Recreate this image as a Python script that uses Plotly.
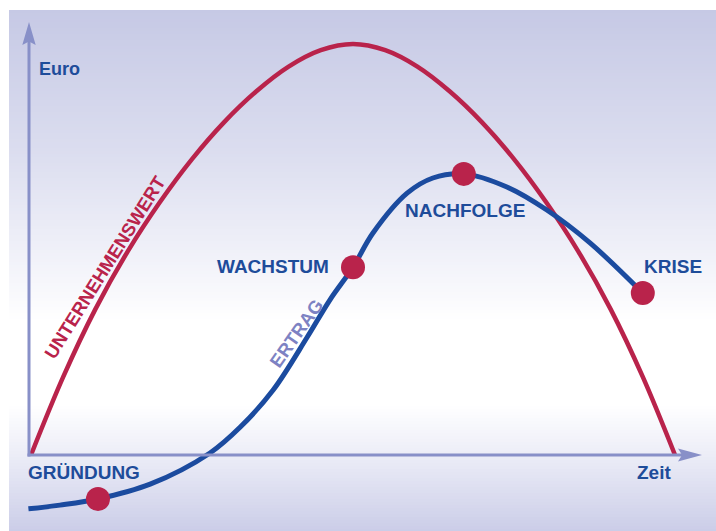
import plotly.graph_objects as go

# ---------------- data (time units, euro units) ----------------
red_t = [0, 0.5, 1, 1.5, 2, 2.5, 3, 3.5, 4, 4.5, 5, 5.5, 6, 6.5, 7, 7.5, 8, 8.5, 9, 9.5, 10]
red_e = [0, 19, 35.5, 49.5, 61.5, 72, 81, 88.5, 94.5, 98.5, 100, 98.5, 94.5, 88.5, 81, 72, 61.5, 49.5, 35.5, 19, 0]

blue_t = [-0.04, 0.45, 1.04, 1.85, 2.78, 3.25, 3.76, 4.29, 4.64, 5.0, 5.31, 5.84, 6.24, 6.72,
          7.39, 8.01, 8.68, 9.50]
blue_e = [-13.1, -12.2, -10.7, -7.1, 0.5, 6.8, 15.8, 28.7, 37.7, 45.7, 54.0, 63.7, 67.4, 68.4,
          65.2, 59.6, 51.6, 39.4]

stage_names = ["GRÜNDUNG", "WACHSTUM", "NACHFOLGE", "KRISE"]
stage_t = [1.04, 5.0, 6.72, 9.50]
stage_e = [-10.7, 45.7, 68.4, 39.4]

# ---------------- geometry helpers ----------------
W, H = 716, 531
OX, OY = 31.0, 455.0        # pixel of origin
SX, SY = 64.4, 4.11         # pixels per unit

def tx(px):
    return (px - OX) / SX

def ey(py):
    return (OY - py) / SY

RED = "#b9234b"
BLUE = "#1b4b9f"
TXT = "#1e4c9a"
AXC = "#8890c8"
LAV = "#7d82c3"
FONT = "Liberation Sans, Arial, sans-serif"

fig = go.Figure()

fig.add_trace(go.Scatter(x=red_t, y=red_e, mode="lines",
                         line=dict(color=RED, width=4.5, shape="spline", smoothing=1.0),
                         hoverinfo="skip", showlegend=False))
fig.add_trace(go.Scatter(x=blue_t, y=blue_e, mode="lines",
                         line=dict(color=BLUE, width=5, shape="spline", smoothing=1.0),
                         hoverinfo="skip", showlegend=False))
fig.add_trace(go.Scatter(x=stage_t, y=stage_e, mode="markers",
                         marker=dict(color=RED, size=24, line=dict(width=0)),
                         hoverinfo="skip", showlegend=False))

# ---------------- background gradient ----------------
stops = [(10, (198, 201, 229)), (150, (219, 221, 239)), (300, (250, 250, 253)),
         (320, (255, 255, 255)), (405, (255, 255, 255)), (455, (236, 237, 247)),
         (531, (203, 205, 232))]

def col_at(py):
    for (a, ca), (b, cb) in zip(stops[:-1], stops[1:]):
        if a <= py <= b:
            f = (py - a) / (b - a)
            return tuple(round(ca[i] + (cb[i] - ca[i]) * f) for i in range(3))
    return stops[-1][1]

shapes = []
step = 3
py = 10
while py < H:
    c = col_at(py + step / 2)
    shapes.append(dict(type="rect", xref="paper", yref="paper", layer="below",
                       x0=9 / W, x1=1, y0=1 - min(py + step + 0.5, H) / H, y1=1 - py / H,
                       fillcolor="rgb(%d,%d,%d)" % c, line=dict(width=0)))
    py += step

# ---------------- axes with arrows ----------------
ax_x0 = 29
shapes.append(dict(type="line", x0=tx(ax_x0), x1=tx(ax_x0), y0=ey(OY + 1.5), y1=ey(40),
                   line=dict(color=AXC, width=3)))
shapes.append(dict(type="line", x0=tx(ax_x0 - 1.5), x1=tx(685), y0=0, y1=0,
                   line=dict(color=AXC, width=3)))

def path(pts):
    return "M " + " L ".join("%f,%f" % (tx(a), ey(b)) for a, b in pts) + " Z"

shapes.append(dict(type="path", path=path([(ax_x0, 22), (ax_x0 + 6.7, 45), (ax_x0, 41.5), (ax_x0 - 6.7, 45)]),
                   fillcolor=AXC, line=dict(width=0)))
shapes.append(dict(type="path", path=path([(702, OY), (678, OY - 6.5), (682, OY), (678, OY + 6.5)]),
                   fillcolor=AXC, line=dict(width=0)))

# ---------------- text ----------------
def ann(text, x, y, xanchor="center", color=TXT, angle=0, size=19):
    fig.add_annotation(x=x, y=y, text=text, showarrow=False, xanchor=xanchor, yanchor="middle",
                       textangle=angle,
                       font=dict(family=FONT, size=size, color=color, weight="bold"))

ann("Euro", tx(37), ey(69), xanchor="left", size=18)
ann("Zeit", tx(635), ey(472), xanchor="left", size=19)
ann(stage_names[0], tx(26), ey(472), xanchor="left")
ann(stage_names[1], tx(331), ey(266), xanchor="right")
ann(stage_names[2], tx(465), ey(210))
ann(stage_names[3], tx(642), ey(266), xanchor="left")
ann("UNTERNEHMENSWERT", tx(104.5), ey(267), angle=-58, color=RED, size=18.5)
ann("ERTRAG", tx(296), ey(333), angle=-55, color=LAV, size=18.5)

fig.update_layout(
    width=W, height=H,
    margin=dict(l=0, r=0, t=0, b=0),
    paper_bgcolor="white", plot_bgcolor="rgba(0,0,0,0)",
    shapes=shapes,
    xaxis=dict(range=[tx(0), tx(W)], visible=False, fixedrange=True),
    yaxis=dict(range=[ey(H), ey(0)], visible=False, fixedrange=True),
    showlegend=False,
)

fig.write_html("out.html", config={"displayModeBar": False},
               post_script="document.body.style.margin='0';")
